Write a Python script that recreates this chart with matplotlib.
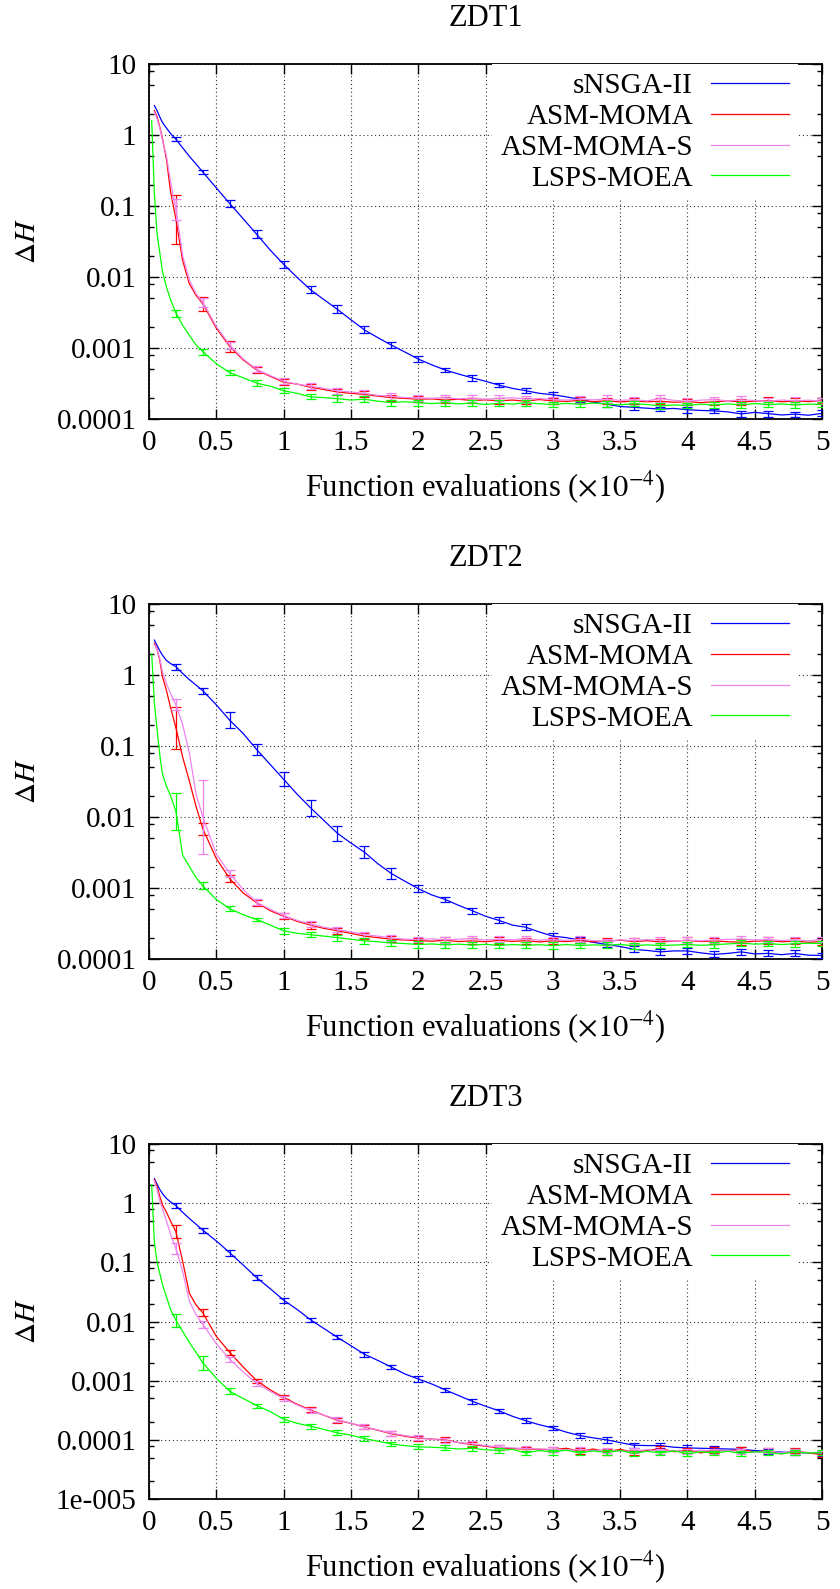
import numpy as np
import matplotlib
matplotlib.use("Agg")
import matplotlib.pyplot as plt
from matplotlib.ticker import FixedLocator, FixedFormatter, NullFormatter, NullLocator

plt.rcParams['font.family'] = ['Liberation Serif', 'DejaVu Serif']
plt.rcParams['mathtext.fontset'] = 'stix'

nan = np.nan

# function evaluations (x 10^4) where the curves were read
X_LINE = [0.02, 0.04, 0.06, 0.08, 0.10, 0.13, 0.16, 0.20, 0.25, 0.30, 0.35,
          0.4, 0.5, 0.6, 0.7, 0.8, 0.9, 1.0, 1.1, 1.2, 1.3,
          1.4, 1.5, 1.6, 1.7, 1.8, 1.9, 2.0, 2.1, 2.2, 2.3,
          2.4, 2.5, 2.6, 2.7, 2.8, 2.9, 3.0, 3.1, 3.2, 3.3,
          3.4, 3.5, 3.6, 3.7, 3.8, 3.9, 4.0, 4.1, 4.2, 4.3,
          4.4, 4.5, 4.6, 4.7, 4.8, 4.9, 5.0]
# error bars every 0.2
EB_X = [0.2, 0.4, 0.6, 0.8, 1.0, 1.2, 1.4, 1.6, 1.8, 2.0, 2.2, 2.4, 2.6,
        2.8, 3.0, 3.2, 3.4, 3.6, 3.8, 4.0, 4.2, 4.4, 4.6, 4.8, 5.0]

LABELS = ["sNSGA-II", "ASM-MOMA", "ASM-MOMA-S", "LSPS-MOEA"]
COLORS = ["#0000ff", "#ff0000", "#ee82ee", "#00ff00"]
TITLES = ["ZDT1", "ZDT2", "ZDT3"]

# ---------------- ZDT1 ----------------
zdt1_snsga = [nan, 2.6, 2.2, 1.8, 1.5, 1.25, 1.05, 0.87, 0.66, 0.50, 0.39,
              0.30, 0.18, 0.108, 0.066, 0.040, 0.024, 0.0151, 0.0099, 0.0066, 0.0048,
              0.0035, 0.0025, 0.0018, 0.0014, 0.0011, 0.00088, 0.00070, 0.00058, 0.00049, 0.00043,
              0.00038, 0.00034, 0.00030, 0.00027, 0.00025, 0.00023, 0.00022, 0.000205, 0.00019, 0.000172,
              0.000162, 0.000150, 0.000146, 0.000142, 0.000138, 0.000141, 0.000135, 0.000132, 0.000130, 0.000126,
              0.000118, 0.000124, 0.000119, 0.000114, 0.000117, 0.000113, 0.000120]
zdt1_asm = [nan, 2.2, 1.8, 1.3, 0.90, 0.45, 0.16, 0.065, 0.017, 0.008, 0.0055,
            0.0042, 0.0019, 0.00105, 0.00068, 0.00049, 0.00040, 0.00033, 0.00031, 0.00028, 0.00026,
            0.00024, 0.00023, 0.000222, 0.00021, 0.00020, 0.000195, 0.00019, 0.000192, 0.000185, 0.00019,
            0.000182, 0.000186, 0.00018, 0.000185, 0.000178, 0.000188, 0.00018, 0.000177, 0.000183, 0.000176,
            0.00018, 0.000174, 0.000179, 0.000175, 0.000178, 0.000172, 0.000176, 0.00017, 0.000175, 0.00018,
            0.000174, 0.000178, 0.000182, 0.000175, 0.000179, 0.000176, 0.000182]
zdt1_asms = [nan, 2.1, 1.7, 1.25, 0.85, 0.5, 0.22, 0.09, 0.02, 0.009, 0.0058,
             0.0044, 0.0020, 0.0011, 0.0007, 0.0005, 0.00041, 0.00034, 0.00031, 0.00029, 0.00027,
             0.00025, 0.00024, 0.00023, 0.000215, 0.00021, 0.0002, 0.000198, 0.000196, 0.0002, 0.000192,
             0.000197, 0.00019, 0.000195, 0.000199, 0.000191, 0.000194, 0.000188, 0.000185, 0.00019, 0.000186,
             0.000191, 0.000183, 0.000187, 0.00018, 0.000195, 0.000183, 0.000178, 0.000184, 0.000188, 0.00018,
             0.000186, 0.000182, 0.000178, 0.000185, 0.00018, 0.000184, 0.000178]
zdt1_lsps = [1.6, 0.15, 0.04, 0.022, 0.012, 0.0072, 0.0048, 0.0031, 0.0021, 0.0015, 0.0011,
             0.00089, 0.0006, 0.00045, 0.00038, 0.00032, 0.00029, 0.00025, 0.00023, 0.000205, 0.0002,
             0.000193, 0.000185, 0.00019, 0.000178, 0.00017, 0.000175, 0.00017, 0.000165, 0.00017, 0.000163,
             0.000168, 0.00016, 0.000167, 0.000162, 0.00017, 0.000164, 0.00016, 0.000166, 0.000161, 0.000168,
             0.000163, 0.000158, 0.000165, 0.00016, 0.000152, 0.000158, 0.000155, 0.000162, 0.000157, 0.000163,
             0.000158, 0.000165, 0.00016, 0.000163, 0.000158, 0.000162, 0.00016]
# relative error-bar half spread at EB_X
zdt1_snsga_err = [0.07, 0.06, 0.12, 0.14, 0.12, 0.12, 0.14, 0.12, 0.1, 0.1, 0.08, 0.1, 0.08,
                  0.08, 0.1, 0.08, 0.1, 0.1, 0.08, 0.1, 0.08, 0.1, 0.1, 0.08, 0.1]
zdt1_asm_err = [1.2, 0.25, 0.2, 0.1, 0.1, 0.1, 0.1, 0.1, 0.1, 0.1, 0.1, 0.1, 0.1,
                0.1, 0.1, 0.1, 0.1, 0.1, 0.1, 0.1, 0.1, 0.1, 0.12, 0.1, 0.1]
zdt1_asms_err = [0.4, 0.15, 0.12, 0.1, 0.1, 0.1, 0.1, 0.1, 0.12, 0.1, 0.1, 0.12, 0.1,
                 0.12, 0.1, 0.12, 0.15, 0.1, 0.12, 0.1, 0.1, 0.12, 0.1, 0.12, 0.1]
zdt1_lsps_err = [0.12, 0.1, 0.08, 0.1, 0.08, 0.08, 0.12, 0.1, 0.1, 0.1, 0.1, 0.1, 0.1,
                 0.1, 0.1, 0.1, 0.1, 0.1, 0.1, 0.1, 0.1, 0.1, 0.1, 0.1, 0.1]

# ---------------- ZDT2 ----------------
zdt2_snsga = [nan, 3.1, 2.6, 2.2, 1.9, 1.6, 1.45, 1.31, 1.05, 0.86, 0.72,
              0.60, 0.38, 0.23, 0.15, 0.089, 0.055, 0.034, 0.021, 0.0135, 0.0089,
              0.0059, 0.0043, 0.0032, 0.0022, 0.0016, 0.00125, 0.00098, 0.0008, 0.00069, 0.00057,
              0.00048, 0.0004, 0.00035, 0.0003, 0.00028, 0.00024, 0.00021, 0.0002, 0.000185, 0.000172,
              0.00016, 0.00015, 0.000137, 0.000132, 0.000126, 0.00013, 0.00013, 0.000122, 0.000116, 0.00012,
              0.000126, 0.000118, 0.00012, 0.000115, 0.00012, 0.000113, 0.000112]
zdt2_asm = [nan, 2.8, 2.3, 1.6, 0.95, 0.6, 0.35, 0.18, 0.07, 0.032, 0.014,
            0.0068, 0.0026, 0.00135, 0.00085, 0.00062, 0.00048, 0.0004, 0.00034, 0.0003, 0.00027,
            0.00025, 0.00023, 0.00021, 0.0002, 0.00019, 0.000185, 0.000182, 0.000178, 0.000184, 0.000176,
            0.00018, 0.000175, 0.000183, 0.000177, 0.000181, 0.000174, 0.00018, 0.000176, 0.000182, 0.000175,
            0.000179, 0.000184, 0.000176, 0.000181, 0.000174, 0.000179, 0.000183, 0.000176, 0.00018, 0.000175,
            0.000172, 0.000178, 0.000181, 0.000175, 0.000178, 0.000172, 0.000176]
zdt2_asms = [nan, 2.7, 2.3, 1.7, 1.1, 0.75, 0.55, 0.38, 0.2, 0.079, 0.021,
             0.010, 0.003, 0.0016, 0.00095, 0.00063, 0.0005, 0.00041, 0.00035, 0.00031, 0.00028,
             0.00026, 0.00024, 0.00022, 0.00021, 0.000198, 0.00019, 0.000188, 0.000192, 0.000186, 0.00019,
             0.000194, 0.000185, 0.00019, 0.000186, 0.000192, 0.000184, 0.000188, 0.000183, 0.000189, 0.000182,
             0.000176, 0.000186, 0.000181, 0.000188, 0.000183, 0.000179, 0.000185, 0.00018, 0.000186, 0.000189,
             0.000191, 0.000185, 0.000188, 0.000182, 0.000186, 0.00018, 0.000188]
zdt2_lsps = [2.0, 0.4, 0.17, 0.075, 0.04, 0.027, 0.02, 0.012, 0.0029, 0.002, 0.0014,
             0.00107, 0.00069, 0.00051, 0.00042, 0.00036, 0.0003, 0.00025, 0.00023, 0.00022, 0.00021,
             0.0002, 0.00019, 0.00018, 0.000175, 0.000168, 0.000165, 0.00016, 0.000163, 0.000158, 0.000162,
             0.000157, 0.000161, 0.000155, 0.00016, 0.000156, 0.000159, 0.000154, 0.00016, 0.000155, 0.000158,
             0.000156, 0.00016, 0.000154, 0.000158, 0.000155, 0.000157, 0.00016, 0.000156, 0.000159, 0.000163,
             0.000167, 0.000162, 0.000165, 0.00016, 0.000164, 0.000167, 0.000165]
zdt2_snsga_err = [0.1, 0.1, 0.3, 0.18, 0.25, 0.3, 0.28, 0.22, 0.2, 0.12, 0.1, 0.1, 0.1,
                  0.1, 0.1, 0.1, 0.1, 0.1, 0.1, 0.1, 0.1, 0.1, 0.1, 0.1, 0.1]
zdt2_asm_err = [1.0, 0.2, 0.12, 0.1, 0.1, 0.12, 0.1, 0.1, 0.1, 0.1, 0.1, 0.1, 0.12,
                0.1, 0.1, 0.1, 0.12, 0.12, 0.1, 0.12, 0.1, 0.1, 0.12, 0.1, 0.1]
zdt2_asms_err = [0.2, 2.3, 0.12, 0.1, 0.1, 0.1, 0.1, 0.1, 0.1, 0.1, 0.1, 0.1, 0.1,
                 0.1, 0.1, 0.1, 0.1, 0.1, 0.1, 0.1, 0.1, 0.12, 0.1, 0.1, 0.1]
zdt2_lsps_err = [0.8, 0.12, 0.08, 0.05, 0.1, 0.08, 0.1, 0.1, 0.12, 0.12, 0.1, 0.1, 0.1,
                 0.1, 0.12, 0.1, 0.1, 0.1, 0.1, 0.1, 0.1, 0.1, 0.1, 0.1, 0.1]

# ---------------- ZDT3 ----------------
zdt3_snsga = [nan, 2.6, 2.1, 1.7, 1.45, 1.2, 1.05, 0.91, 0.7, 0.55, 0.44,
              0.35, 0.23, 0.145, 0.09, 0.055, 0.036, 0.023, 0.016, 0.0107, 0.0076,
              0.0054, 0.0039, 0.0028, 0.0022, 0.0017, 0.0013, 0.00107, 0.00088, 0.0007, 0.00056,
              0.00045, 0.00037, 0.00031, 0.00025, 0.00021, 0.00018, 0.000159, 0.000135, 0.000118, 0.000108,
              0.0001, 0.00009, 0.000081, 0.00008, 0.00008, 0.000075, 0.000073, 0.000072, 0.000071, 0.00007,
              0.000069, 0.000066, 0.000064, 0.000062, 0.000061, 0.00006, 0.000059]
zdt3_asm = [nan, 2.5, 1.9, 1.3, 0.94, 0.7, 0.5, 0.33, 0.104, 0.03, 0.019,
            0.014, 0.0056, 0.003, 0.0017, 0.001, 0.0007, 0.00052, 0.0004, 0.00032, 0.00026,
            0.000214, 0.00019, 0.000165, 0.000145, 0.000127, 0.000115, 0.000107, 0.000103, 0.0001, 0.00009,
            0.000083, 0.000078, 0.000073, 0.000071, 0.00007, 0.000069, 0.000068, 0.000072, 0.000064, 0.00007,
            0.000063, 0.000069, 0.000062, 0.000066, 0.000071, 0.000063, 0.000067, 0.00006, 0.000068, 0.000064,
            0.00007, 0.000062, 0.000066, 0.000058, 0.000065, 0.00006, 0.000056]
zdt3_asms = [nan, 2.4, 1.7, 1.1, 0.8, 0.5, 0.3, 0.17, 0.07, 0.022, 0.013,
             0.009, 0.0042, 0.0023, 0.0014, 0.0009, 0.00066, 0.0005, 0.00039, 0.00031, 0.00026,
             0.00022, 0.00019, 0.000167, 0.000147, 0.00013, 0.000118, 0.00011, 0.000102, 0.000098, 0.00009,
             0.000086, 0.00008, 0.000075, 0.000073, 0.000071, 0.00007, 0.000069, 0.000067, 0.000068, 0.000066,
             0.000067, 0.000064, 0.000065, 0.000068, 0.000064, 0.000066, 0.000063, 0.000067, 0.000064, 0.000066,
             0.000063, 0.000061, 0.000065, 0.00006, 0.000063, 0.000061, 0.00006]
zdt3_lsps = [2.05, 0.22, 0.1, 0.065, 0.042, 0.026, 0.016, 0.0105, 0.0068, 0.0044, 0.003,
             0.002, 0.0011, 0.00066, 0.0005, 0.00038, 0.0003, 0.000224, 0.00019, 0.00017, 0.00015,
             0.000131, 0.00012, 0.000105, 0.000095, 0.000085, 0.00008, 0.000076, 0.000075, 0.000073, 0.00007,
             0.000072, 0.000068, 0.000066, 0.000069, 0.00006, 0.000066, 0.000062, 0.000067, 0.00006, 0.000065,
             0.000061, 0.000066, 0.000059, 0.000064, 0.00006, 0.000065, 0.000058, 0.000063, 0.00006, 0.000064,
             0.000059, 0.000063, 0.000061, 0.000058, 0.000062, 0.00006, 0.000061]
zdt3_snsga_err = [0.1, 0.1, 0.12, 0.1, 0.1, 0.08, 0.08, 0.1, 0.1, 0.12, 0.08, 0.1, 0.08,
                  0.1, 0.08, 0.12, 0.12, 0.1, 0.1, 0.1, 0.1, 0.1, 0.1, 0.1, 0.1]
zdt3_asm_err = [0.3, 0.15, 0.1, 0.08, 0.08, 0.1, 0.1, 0.1, 0.1, 0.1, 0.1, 0.1, 0.1,
                0.1, 0.1, 0.12, 0.12, 0.1, 0.1, 0.1, 0.12, 0.1, 0.12, 0.1, 0.1]
zdt3_asms_err = [0.25, 0.15, 0.1, 0.1, 0.1, 0.1, 0.1, 0.1, 0.1, 0.1, 0.1, 0.1, 0.1,
                 0.1, 0.1, 0.1, 0.1, 0.1, 0.1, 0.1, 0.1, 0.1, 0.1, 0.1, 0.1]
zdt3_lsps_err = [0.3, 0.3, 0.12, 0.08, 0.1, 0.1, 0.1, 0.1, 0.08, 0.1, 0.1, 0.1, 0.1,
                 0.1, 0.1, 0.1, 0.1, 0.1, 0.1, 0.1, 0.1, 0.1, 0.1, 0.1, 0.1]

panels = [
    (TITLES[0], [zdt1_snsga, zdt1_asm, zdt1_asms, zdt1_lsps],
     [zdt1_snsga_err, zdt1_asm_err, zdt1_asms_err, zdt1_lsps_err], -4),
    (TITLES[1], [zdt2_snsga, zdt2_asm, zdt2_asms, zdt2_lsps],
     [zdt2_snsga_err, zdt2_asm_err, zdt2_asms_err, zdt2_lsps_err], -4),
    (TITLES[2], [zdt3_snsga, zdt3_asm, zdt3_asms, zdt3_lsps],
     [zdt3_snsga_err, zdt3_asm_err, zdt3_asms_err, zdt3_lsps_err], -5),
]

W, H = 840, 1589
fig = plt.figure(figsize=(W / 100, H / 100), dpi=100)
fs = 21

ax_left, ax_right = 149, 822
tops = [64, 604, 1144]
ax_h = 355

xl = np.array(X_LINE)
eb_idx = [int(np.argmin(np.abs(xl - e))) for e in EB_X]

for (title, series, errs, lowexp), top in zip(panels, tops):
    ax = fig.add_axes([ax_left / W, 1 - (top + ax_h) / H,
                       (ax_right - ax_left) / W, ax_h / H])
    handles = []
    for ys, es, lab, col in zip(series, errs, LABELS, COLORS):
        ys = np.array(ys)
        ln, = ax.plot(xl, ys, color=col, lw=0.9, label=lab, zorder=3)
        handles.append(ln)
        ey = ys[eb_idx]
        r = 1 + np.array(es)
        ax.errorbar(EB_X, ey, yerr=[ey - ey / r, ey * r - ey], fmt='none',
                    ecolor=col, elinewidth=0.9, capsize=3.5, capthick=0.9, zorder=3)

    ax.set_yscale('log')
    ax.set_xlim(0, 5)
    ax.set_ylim(10.0 ** lowexp, 10)

    exps = list(range(1, lowexp - 1, -1))
    majors = [10.0 ** e for e in exps]
    names = {1: "10", 0: "1", -1: "0.1", -2: "0.01", -3: "0.001", -4: "0.0001", -5: "1e-005"}
    ax.yaxis.set_major_locator(FixedLocator(majors))
    ax.yaxis.set_major_formatter(FixedFormatter([names[e] for e in exps]))
    minors = [s * 10.0 ** e for e in range(lowexp, 1) for s in (2, 5, 8)]
    ax.yaxis.set_minor_locator(FixedLocator(minors))
    ax.yaxis.set_minor_formatter(NullFormatter())

    xt = [0, 0.5, 1, 1.5, 2, 2.5, 3, 3.5, 4, 4.5, 5]
    ax.xaxis.set_major_locator(FixedLocator(xt))
    ax.xaxis.set_major_formatter(FixedFormatter(["0", "0.5", "1", "1.5", "2", "2.5",
                                                 "3", "3.5", "4", "4.5", "5"]))
    ax.xaxis.set_minor_locator(NullLocator())

    ax.tick_params(which='both', direction='in', top=True, right=True,
                   labelsize=fs, width=1.0)
    ax.tick_params(which='major', length=7)
    ax.tick_params(which='minor', length=3.5)
    ax.tick_params(axis='x', pad=8)
    ax.tick_params(axis='y', pad=9)
    for sp in ax.spines.values():
        sp.set_linewidth(1.3)

    ax.grid(True, which='major', linestyle=(0, (1, 2.5)), color='#333333', lw=0.8)

    ax.set_title(title, fontsize=22, pad=27)
    ax.set_ylabel(r'$\Delta H$', fontsize=fs)
    ax.yaxis.set_label_coords(-0.16, 0.5)
    ax.set_xlabel(r'Function evaluations ($\times10^{-4}$)', fontsize=22)
    ax.xaxis.set_label_coords(0.5, -0.14)

    leg = ax.legend(handles=handles, loc='upper right',
                    bbox_to_anchor=((798 - ax_left) / (ax_right - ax_left), 1.0),
                    borderaxespad=0, markerfirst=False, fontsize=fs,
                    handlelength=2.7, handletextpad=0.6, labelspacing=0.15,
                    borderpad=0.3, frameon=True, fancybox=False,
                    edgecolor='none', facecolor='white', framealpha=1)

fig.savefig("out.png", dpi=100)
